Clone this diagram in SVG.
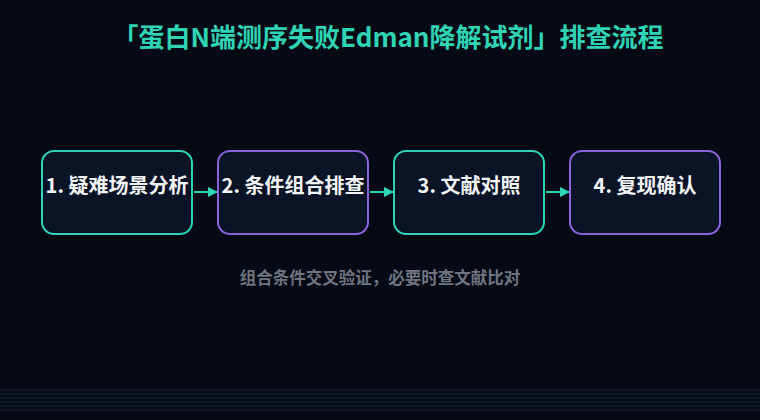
<svg xmlns="http://www.w3.org/2000/svg" width="760" height="420" viewBox="0 0 760 420">
<defs>
<style>
.bg{fill:#050a14}
.node{fill:#0b1426;stroke-width:2}
.teal{stroke:#2fd3b5}
.purple{stroke:#8a63d8}
.lbl{font-family:"Noto Sans CJK SC","Noto Sans",sans-serif;font-size:20px;font-weight:700;fill:#f2f4f8;text-anchor:middle}
.title{font-family:"Noto Sans CJK SC","Noto Sans",sans-serif;font-size:26px;font-weight:700;fill:#2fd3b5;text-anchor:middle}
.sub{font-family:"Noto Sans CJK SC","Noto Sans",sans-serif;font-size:16.5px;font-weight:700;fill:#6e7480;text-anchor:middle}
.conn{stroke:#2fd3b5;stroke-width:2;fill:none}
.grid{stroke:#16232f;stroke-width:1}
</style>
<marker id="arr" viewBox="0 0 10 10" refX="9" refY="5" markerWidth="10" markerHeight="10" markerUnits="userSpaceOnUse" orient="auto">
<path d="M0,0 L10,5 L0,10 Z" fill="#2fd3b5"/>
</marker>
</defs>
<rect class="bg" x="0" y="0" width="760" height="420"/>
<g id="grid">
<line class="grid" x1="0" y1="390" x2="760" y2="390"/>
<line class="grid" x1="0" y1="394" x2="760" y2="394"/>
<line class="grid" x1="0" y1="398" x2="760" y2="398"/>
<line class="grid" x1="0" y1="402" x2="760" y2="402"/>
<line class="grid" x1="0" y1="406" x2="760" y2="406"/>
<line class="grid" x1="0" y1="410" x2="760" y2="410"/>
</g>
<text class="title" x="388" y="47">「蛋白N端测序失败Edman降解试剂」排查流程</text>
<g id="connectors">
<line class="conn" x1="194" y1="192" x2="217" y2="192" marker-end="url(#arr)"/>
<line class="conn" x1="370" y1="192" x2="393" y2="192" marker-end="url(#arr)"/>
<line class="conn" x1="546" y1="192" x2="569" y2="192" marker-end="url(#arr)"/>
</g>
<g id="node1">
<rect class="node teal" x="42" y="151" width="150" height="83" rx="12"/>
<text class="lbl" x="117" y="193">1. 疑难场景分析</text>
</g>
<g id="node2">
<rect class="node purple" x="218" y="151" width="150" height="83" rx="12"/>
<text class="lbl" x="293" y="193">2. 条件组合排查</text>
</g>
<g id="node3">
<rect class="node teal" x="394" y="151" width="150" height="83" rx="12"/>
<text class="lbl" x="469" y="193">3. 文献对照</text>
</g>
<g id="node4">
<rect class="node purple" x="570" y="151" width="150" height="83" rx="12"/>
<text class="lbl" x="645" y="193">4. 复现确认</text>
</g>
<text class="sub" x="380" y="284">组合条件交叉验证，必要时查文献比对</text>
</svg>
